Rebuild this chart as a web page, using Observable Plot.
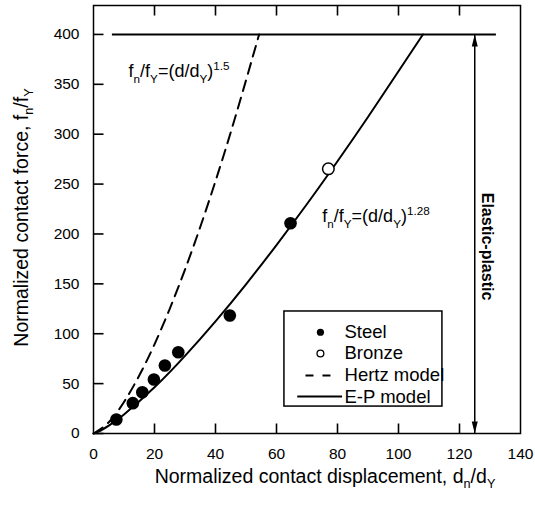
<!DOCTYPE html>
<html>
<head>
<meta charset="utf-8">
<script src="https://cdn.jsdelivr.net/npm/d3@7"></script>
<script src="https://cdn.jsdelivr.net/npm/@observablehq/plot@0.6"></script>
<style>
  html, body { margin: 0; padding: 0; background: #fff; }
  #chart { width: 535px; height: 508px; }
</style>
</head>
<body>
<div id="chart"></div>
<script>
// ---- data ----
const steelX = [7.5, 12.9, 16.0, 19.8, 23.4, 27.8, 44.7, 64.6];
const steelY = [14.0, 30.4, 41.4, 54.1, 68.2, 81.5, 118.3, 210.8];
const bronzeX = [77.0];
const bronzeY = [265.3];
// Hertz model curve (dashed), sampled along the drawn curve
const hertzX = [0, 5, 10, 15, 20, 25, 30, 35, 40, 45, 50, 54.3];
const hertzY = [0, 11.2, 31.6, 58.1, 89.4, 125, 164.3, 207, 253, 302, 354, 400];
// E-P model curve (solid), sampled along the drawn curve
const epX = [0, 2, 5, 10, 20, 30, 40, 50, 60, 70, 80, 90, 100, 108];
const epY = [0, 2.4, 7.9, 19.1, 46.3, 77.8, 112.4, 149.5, 188.9, 230, 272.9, 317.3, 363.1, 400];
// Elastic-plastic limit
const limitForce = [400];
const limitFrom = 6.2, limitTo = 132.1;
const arrowAt = [125];

const xDomain = [0, 140];
const yDomain = [0, 429];
const xTicks = [0, 20, 40, 60, 80, 100, 120, 140];
const xInnerTicks = [20, 40, 60, 80, 100, 120];
const yTicks = [0, 50, 100, 150, 200, 250, 300, 350, 400];

const xTitle = "Normalized contact displacement, d_{n}/d_{Y}";
const yTitle = "Normalized contact force, f_{n}/f_{Y}";
const hertzLabel = "f_{n}/f_{Y}=(d/d_{Y})^{1.5}";
const epLabel = "f_{n}/f_{Y}=(d/d_{Y})^{1.28}";
const zoneLabel = "Elastic-plastic";

const legendLabels = ["Steel", "Bronze", "Hertz model", "E-P model"];
const legendKinds = ["filled", "open", "dash", "solid"];

// ---- layout ----
const W = 535, H = 508, ML = 93, MR = 15, MT = 5, MB = 75;
const TICK = 10; // inward tick length in px
const tickLenX = TICK * (xDomain[1] - xDomain[0]) / (W - ML - MR); // px -> x units
const tickLenY = TICK * (yDomain[1] - yDomain[0]) / (H - MT - MB); // px -> y units
const legendBox = {x1: 62.6, x2: 114.4, y1: 27, y2: 122.3};
const legendRowY = [101.5, 80.2, 58.1, 37.0];
const legendSymX = 74.4, legendTextX = 82.3;

const FONT = "'Liberation Sans', Arial, Helvetica, sans-serif";

const steel = steelX.map((x, i) => ({x, y: steelY[i]}));
const bronze = bronzeX.map((x, i) => ({x, y: bronzeY[i]}));
const hertz = hertzX.map((x, i) => ({x, y: hertzY[i]}));
const ep = epX.map((x, i) => ({x, y: epY[i]}));
const legend = legendLabels.map((label, i) => ({label, kind: legendKinds[i], y: legendRowY[i]}));
const bottomTicks = xInnerTicks.map(x => ({x, y1: yDomain[0], y2: yDomain[0] + tickLenY}));
const topTicks = xInnerTicks.map(x => ({x, y1: yDomain[1] - tickLenY, y2: yDomain[1]}));
const leftTicks = yTicks.map(y => ({y, x1: xDomain[0], x2: xDomain[0] + tickLenX}));

const arrowUp = {draw(ctx) { ctx.moveTo(0, 0); ctx.lineTo(3, 12); ctx.lineTo(-3, 12); ctx.closePath(); }};
const arrowDown = {draw(ctx) { ctx.moveTo(0, 0); ctx.lineTo(3, -12); ctx.lineTo(-3, -12); ctx.closePath(); }};

const plot = Plot.plot({
  width: W,
  height: H,
  marginLeft: ML,
  marginRight: MR,
  marginTop: MT,
  marginBottom: MB,
  style: {fontFamily: FONT, fontSize: "15px", color: "black", background: "white"},
  x: {domain: xDomain},
  y: {domain: yDomain},
  marks: [
    // tick labels
    Plot.axisX({anchor: "bottom", ticks: xTicks, tickSize: 0, tickPadding: 14, label: null, fontSize: 15.5}),
    Plot.axisY({anchor: "left", ticks: yTicks, tickSize: 0, tickPadding: 14, label: null, fontSize: 15.5}),
    // inward ticks
    Plot.link(bottomTicks, {x1: "x", x2: "x", y1: "y1", y2: "y2", stroke: "black", strokeWidth: 1.6}),
    Plot.link(topTicks, {x1: "x", x2: "x", y1: "y1", y2: "y2", stroke: "black", strokeWidth: 1.6}),
    Plot.link(leftTicks, {x1: "x1", x2: "x2", y1: "y", y2: "y", stroke: "black", strokeWidth: 1.6}),
    Plot.frame({stroke: "black", strokeWidth: 1.5}),
    // axis titles
    Plot.text([xTitle], {frameAnchor: "bottom", textAnchor: "middle", dx: 18, dy: 49, lineAnchor: "bottom", fontSize: 19.5}),
    Plot.text([yTitle], {frameAnchor: "left", textAnchor: "middle", rotate: -90, dx: -66, dy: -2, lineAnchor: "bottom", fontSize: 19.5}),
    // limit line and arrow
    Plot.ruleY(limitForce, {x1: limitFrom, x2: limitTo, stroke: "black", strokeWidth: 2}),
    Plot.ruleX(arrowAt, {y1: 0, y2: limitForce[0], stroke: "black", strokeWidth: 1.5}),
    Plot.dot(arrowAt, {x: d => d, y: limitForce[0], symbol: arrowUp, fill: "black", stroke: null}),
    Plot.dot(arrowAt, {x: d => d, y: 0, symbol: arrowDown, fill: "black", stroke: null}),
    Plot.text([zoneLabel], {x: 129.2, y: 187.4, rotate: 90, fontSize: 16, fontWeight: "bold"}),
    // model curves
    Plot.line(hertz, {x: "x", y: "y", stroke: "black", strokeWidth: 2, strokeDasharray: "11,7", curve: "natural"}),
    Plot.line(ep, {x: "x", y: "y", stroke: "black", strokeWidth: 2, curve: "natural"}),
    // data
    Plot.dot(steel, {x: "x", y: "y", r: 6.3, fill: "black", stroke: null}),
    Plot.dot(bronze, {x: "x", y: "y", r: 5.8, fill: "white", stroke: "black", strokeWidth: 1.5}),
    // annotations
    Plot.text([hertzLabel], {x: 11.5, y: 357, textAnchor: "start", lineAnchor: "bottom", fontSize: 18}),
    Plot.text([epLabel], {x: 75, y: 211.8, textAnchor: "start", lineAnchor: "bottom", fontSize: 18}),
    // legend
    Plot.rect([legendBox], {x1: "x1", x2: "x2", y1: "y1", y2: "y2", fill: "white", stroke: "black", strokeWidth: 1.5}),
    Plot.dot(legend.filter(d => d.kind === "filled"), {x: legendSymX, y: "y", r: 3.6, fill: "black", stroke: null}),
    Plot.dot(legend.filter(d => d.kind === "open"), {x: legendSymX, y: "y", r: 3.4, fill: "white", stroke: "black", strokeWidth: 1.3}),
    Plot.link(legend.filter(d => d.kind === "dash"), {x1: 69.5, x2: 77.7, y1: "y", y2: "y", stroke: "black", strokeWidth: 2, strokeDasharray: "8,9"}),
    Plot.link(legend.filter(d => d.kind === "solid"), {x1: 66.8, x2: 81.5, y1: "y", y2: "y", stroke: "black", strokeWidth: 2}),
    Plot.text(legend, {x: legendTextX, y: "y", text: "label", textAnchor: "start", fontSize: 18.5})
  ]
});

document.getElementById("chart").appendChild(plot);

// turn _{..} and ^{..} markup into subscript / superscript tspans
(function richify(svg) {
  const ns = "http://www.w3.org/2000/svg";
  svg.querySelectorAll("text").forEach(t => {
    const s = t.textContent;
    if (!/[_^]\{/.test(s)) return;
    const fs = parseFloat(getComputedStyle(t).fontSize) || 16;
    while (t.firstChild) t.removeChild(t.firstChild);
    let shift = 0;
    const add = (txt, kind) => {
      if (!txt) return;
      const sp = document.createElementNS(ns, "tspan");
      const target = kind === "sub" ? fs * 0.3 : kind === "sup" ? -fs * 0.4 : 0;
      const d = target - shift;
      if (d) sp.setAttribute("dy", d.toFixed(2));
      shift = target;
      if (kind) sp.setAttribute("font-size", (fs * 0.65).toFixed(1));
      sp.textContent = txt;
      t.appendChild(sp);
    };
    const re = /([_^])\{([^}]*)\}/g;
    let last = 0, m;
    while ((m = re.exec(s))) {
      add(s.slice(last, m.index), null);
      add(m[2], m[1] === "_" ? "sub" : "sup");
      last = re.lastIndex;
    }
    add(s.slice(last), null);
  });
})(plot);
</script>
</body>
</html>
